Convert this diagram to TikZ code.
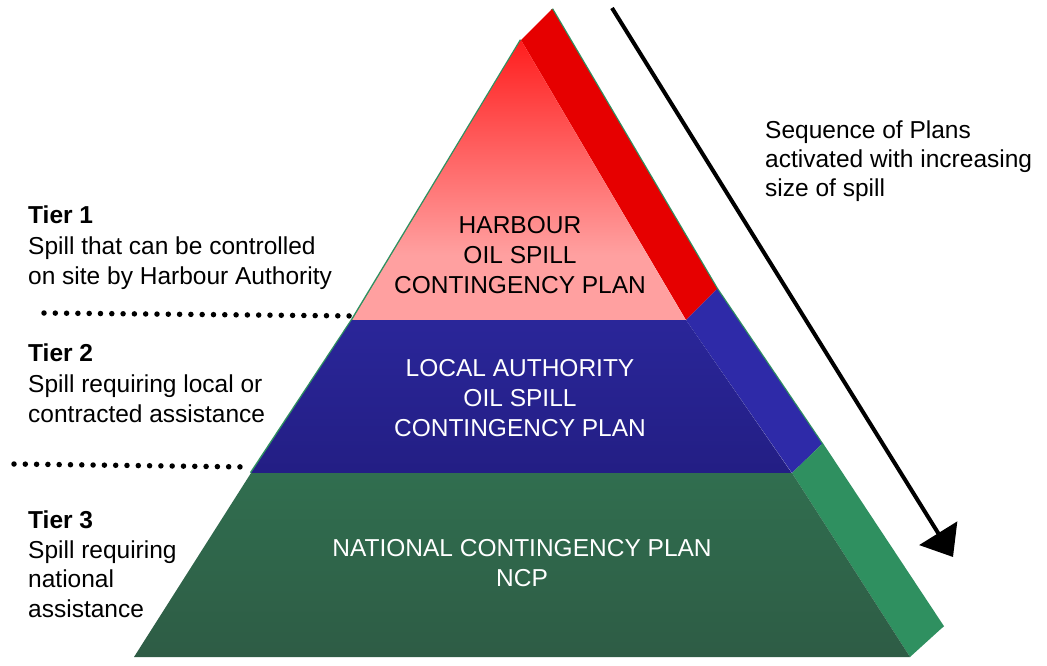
\documentclass[tikz,border=0pt]{standalone}
\usepackage{fontspec}
\setmainfont{Liberation Sans}
\usetikzlibrary{arrows.meta}

\definecolor{sidered}{HTML}{E60000}
\definecolor{topred}{HTML}{FF1E1E}
\definecolor{palepink}{HTML}{FFA0A0}
\definecolor{frontblueA}{HTML}{2A2699}
\definecolor{frontblueB}{HTML}{231E84}
\definecolor{sideblue}{HTML}{2E2AA8}
\definecolor{frontgreenA}{HTML}{306E4F}
\definecolor{frontgreenB}{HTML}{2E5C45}
\definecolor{sidegreen}{HTML}{2F9060}

\tikzset{
  labeltext/.style={inner sep=0pt, align=left, anchor=north west,
    font=\fontsize{24.5}{30.5}\selectfont},
  plantext/.style={inner sep=0pt, align=center, anchor=north,
    font=\fontsize{24.5}{30}\selectfont},
  tierline/.style={line width=5.5pt, line cap=round, dash pattern=on 0pt off 11.3pt},
  sequencearrow/.style={line width=4pt, -{Triangle[length=28pt,width=44pt]}},
}

\begin{document}
\begin{tikzpicture}[x=1pt,y=-1pt]
\useasboundingbox (0,0) rectangle (1047,666);

% thin green rim along the outer edges of the pyramid
\draw[sidegreen, line width=2.5pt, line join=round]
  (251,473) -- (352,320) -- (521,40);
\draw[sidegreen, line width=2.5pt, line join=round]
  (552,9) -- (717,289) -- (822,444) -- (943,627);

% side faces
\fill[sidered] (521,40) -- (552,9) -- (717,289) -- (686,320) -- cycle;
\fill[sideblue] (686,320) -- (717,289) -- (822,444) -- (792,473) -- cycle;
\fill[sidegreen] (792,473) -- (822,444) -- (943,627) -- (910,657) -- cycle;

% tier 1 front face: red fading to pink
\begin{scope}
  \clip (521,40) -- (686,320.5) -- (352,320.5) -- cycle;
  \shade[top color=topred, bottom color=palepink] (300,40) rectangle (720,255);
  \fill[palepink] (300,254.5) rectangle (720,321);
\end{scope}

% tier 2 front face
\shade[top color=frontblueA, bottom color=frontblueB]
  (352,320) -- (686,320) -- (792,473.5) -- (251,473.5) -- cycle;

% tier 3 front face
\shade[top color=frontgreenA, bottom color=frontgreenB]
  (251,473) -- (792,473) -- (910,657) -- (134,657) -- cycle;

% plan names
\node[plantext] (harbour) at (520,216) {HARBOUR\\OIL SPILL\\CONTINGENCY PLAN};
\node[plantext, text=white] (local) at (520,359) {LOCAL AUTHORITY\\OIL SPILL\\CONTINGENCY PLAN};
\node[plantext, text=white] (national) at (522,539) {NATIONAL CONTINGENCY PLAN\\NCP};

% tier descriptions
\node[labeltext] (tierone) at (28,206)
  {\textbf{Tier 1}\\Spill that can be controlled\\on site by Harbour Authority};
\node[labeltext] (tiertwo) at (28,344)
  {\textbf{Tier 2}\\Spill requiring local or\\contracted assistance};
\node[labeltext, font=\fontsize{24.5}{29.5}\selectfont] (tierthree) at (28,511)
  {\textbf{Tier 3}\\Spill requiring\\national\\assistance};

% dotted tier separators
\coordinate (sepOneStart) at (44,313);
\coordinate (sepOneEnd) at (357,316);
\coordinate (sepTwoStart) at (14,464);
\coordinate (sepTwoEnd) at (249,467);
\draw[tierline] (sepOneStart) -- (sepOneEnd);
\draw[tierline] (sepTwoStart) -- (sepTwoEnd);

% activation sequence
\node[labeltext, font=\fontsize{24.5}{29}\selectfont] (sequence) at (765,121)
  {Sequence of Plans\\activated with increasing\\size of spill};
\coordinate (arrowTail) at (612,8);
\coordinate (arrowTip) at (953,557);
\draw[sequencearrow] (arrowTail) -- (arrowTip);
\end{tikzpicture}
\end{document}
